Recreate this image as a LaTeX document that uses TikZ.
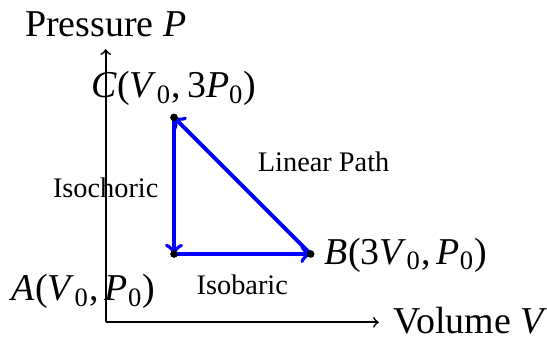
\documentclass[tikz,border=0pt]{standalone}
\usepackage{fontspec}
\setmainfont{Liberation Serif}
\usetikzlibrary{calc}
\newcommand{\sub}[1]{\textsubscript{#1}}
\begin{document}
\begin{tikzpicture}[x=1cm,y=1cm,
  axis/.style={line width=0.7pt,->},
  pathline/.style={blue,line width=1.65pt,->},
  dot/.style={circle,fill=black,inner sep=0pt,minimum size=3.2pt},
  biglabel/.style={font=\fontsize{15.8}{18}\selectfont,inner sep=0pt},
  smalllabel/.style={font=\fontsize{11.8}{14}\selectfont,inner sep=0pt}]
\useasboundingbox (-1.548,-0.230) rectangle (6.461,4.719);
\coordinate (O) at (0,0);
\coordinate (Ytop) at (0,4);
\coordinate (Xend) at (4,0);
\draw[axis] (O) -- (Ytop);
\draw[axis] (O) -- (Xend);
\coordinate (A) at (1,1);
\coordinate (B) at (3,1);
\coordinate (C) at (1,3);
\draw[pathline] (C) -- (A);
\draw[pathline] (A) -- (B);
\draw[pathline] (B) -- (C);
\node[dot] (dA) at (A) {};
\node[dot] (dB) at (B) {};
\node[dot] (dC) at (C) {};
\node[biglabel] (ylab) at (0,4.367) {Pressure \textit{P}};
\node[biglabel,anchor=west] (xlab) at (4.21,0.03) {Volume \textit{V}};
\node[biglabel] (Alab) at (-0.325,0.45) {\textit{A}(\textit{V}\sub{0},\,\textit{P}\sub{0})};
\node[biglabel] (Blab) at (4.397,0.985) {\textit{B}(3\textit{V}\sub{0},\,\textit{P}\sub{0})};
\node[biglabel] (Clab) at (1.0,3.42) {\textit{C}(\textit{V}\sub{0},\,3\textit{P}\sub{0})};
\node[smalllabel] (iso1) at (0,1.974) {Isochoric};
\node[smalllabel] (iso2) at (2,0.553) {Isobaric};
\node[smalllabel] (lin) at (3.19,2.346) {Linear Path};
\end{tikzpicture}
\end{document}
